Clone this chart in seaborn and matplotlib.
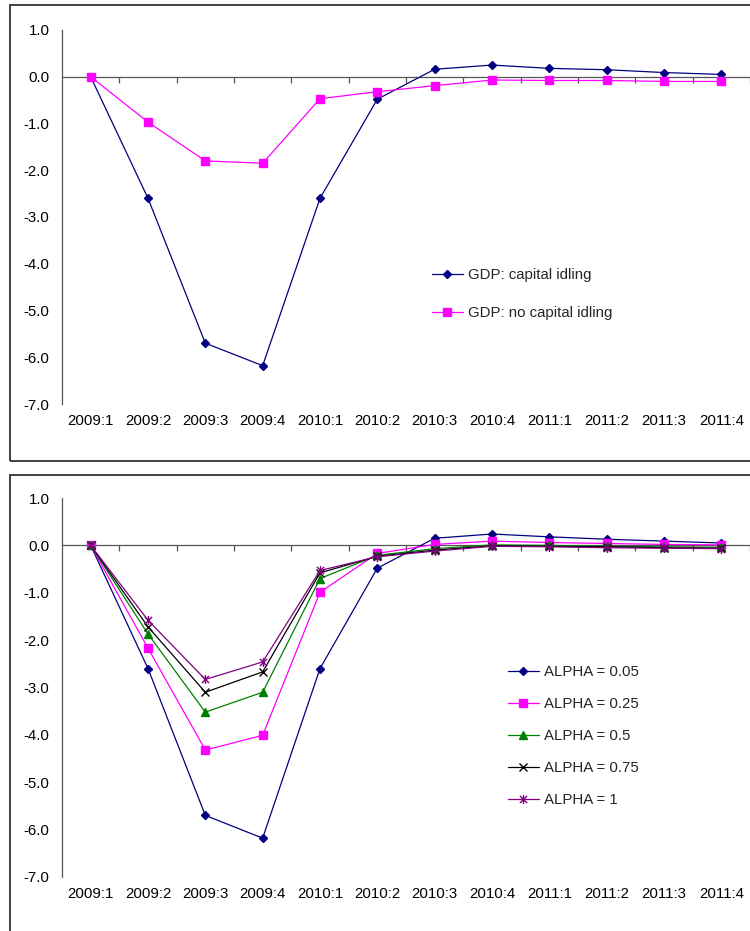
import numpy as np
import pandas as pd
import matplotlib
matplotlib.use("Agg")
import matplotlib.pyplot as plt
import seaborn as sns
from matplotlib.patches import Rectangle
from matplotlib.path import Path
from matplotlib.ticker import FuncFormatter

# data
quarters = ["2009:1", "2009:2", "2009:3", "2009:4", "2010:1", "2010:2",
            "2010:3", "2010:4", "2011:1", "2011:2", "2011:3", "2011:4"]

gdp_idling = [0.0, -2.60, -5.70, -6.18, -2.60, -0.48, 0.16, 0.25, 0.18, 0.15, 0.09, 0.05]
gdp_no_idling = [0.0, -0.97, -1.80, -1.85, -0.47, -0.32, -0.19, -0.07, -0.08, -0.08, -0.10, -0.10]

alpha_005 = [0.0, -2.60, -5.70, -6.18, -2.60, -0.48, 0.15, 0.24, 0.18, 0.13, 0.09, 0.05]
alpha_025 = [0.0, -2.17, -4.32, -4.01, -0.99, -0.17, 0.02, 0.09, 0.06, 0.04, 0.02, 0.01]
alpha_05 = [0.0, -1.87, -3.52, -3.10, -0.70, -0.21, -0.07, 0.01, 0.00, -0.02, -0.03, -0.04]
alpha_075 = [0.0, -1.72, -3.10, -2.67, -0.58, -0.23, -0.10, -0.01, -0.02, -0.03, -0.05, -0.06]
alpha_1 = [0.0, -1.58, -2.83, -2.46, -0.53, -0.24, -0.12, -0.02, -0.03, -0.05, -0.06, -0.07]

sns.set_style("white")
plt.rcParams['font.family'] = ['Liberation Sans', 'DejaVu Sans']
plt.rcParams['font.size'] = 10.8
plt.rcParams['axes.unicode_minus'] = False

# excel style asterisk marker: x plus a vertical bar
star = Path([(-1, -1), (1, 1), (-1, 1), (1, -1), (0, -1.25), (0, 1.25)],
            [Path.MOVETO, Path.LINETO, Path.MOVETO, Path.LINETO, Path.MOVETO, Path.LINETO])

top_series = [
    ("GDP: capital idling", gdp_idling, "#000080", "D", 4.3),
    ("GDP: no capital idling", gdp_no_idling, "#FF00FF", "s", 5.6),
]
bottom_series = [
    ("ALPHA = 0.05", alpha_005, "#000080", "D", 4.3),
    ("ALPHA = 0.25", alpha_025, "#FF00FF", "s", 5.6),
    ("ALPHA = 0.5", alpha_05, "#008000", "^", 6.0),
    ("ALPHA = 0.75", alpha_075, "#000000", "x", 6.0),
    ("ALPHA = 1", alpha_1, "#800080", star, 6.5),
]

W, H = 750, 931
fig = plt.figure(figsize=(W / 100, H / 100), dpi=100)

# outer frames of the two chart objects
for y0, y1 in [(4.5, 461), (475, 945)]:
    fig.patches.append(Rectangle((10 / W, 1 - y1 / H), 1.2, (y1 - y0) / H,
                                 transform=fig.transFigure, fill=False,
                                 edgecolor="#333333", linewidth=1.3))

axis_col = "#555555"


def draw_panel(rect, series, legend_xy, spacing):
    ax = fig.add_axes(rect)
    x = np.arange(len(quarters))
    for name, vals, col, mk, ms in series:
        df = pd.DataFrame({"x": x, "value": vals})
        hollow = isinstance(mk, Path) or mk == "x"
        sns.lineplot(data=df, x="x", y="value", ax=ax, color=col, marker=mk,
                     markersize=ms, markeredgecolor=col, markeredgewidth=1.0,
                     markerfacecolor="none" if hollow else col,
                     linewidth=0.9, label=name)
    ax.set_xlim(-0.5, len(quarters) - 0.5)
    ax.set_ylim(-7, 1)
    ax.set_xlabel("")
    ax.set_ylabel("")
    ax.set_yticks(np.arange(-7, 1.1, 1))
    ax.yaxis.set_major_formatter(FuncFormatter(lambda v, p: "%.1f" % v))
    ax.set_xticks(x)
    ax.set_xticklabels(quarters)
    for s in ["top", "right", "bottom"]:
        ax.spines[s].set_visible(False)
    ax.spines["left"].set_color(axis_col)
    ax.spines["left"].set_linewidth(0.9)
    ax.tick_params(axis="x", length=0, pad=7, colors="#000000")
    ax.tick_params(axis="y", length=4, width=0.9, direction="out", color=axis_col, pad=5)
    ax.tick_params(axis="both", labelcolor="#000000")

    # horizontal category axis crossing at zero, tick marks only
    sec = ax.secondary_xaxis(7 / 8)
    sec.set_xticks(np.arange(0.5, len(quarters), 1))
    sec.set_xticklabels([])
    sec.xaxis.set_ticks_position("bottom")
    sec.tick_params(axis="x", length=4, width=0.9, direction="out", color=axis_col,
                    labelbottom=False, labeltop=False)
    for s in sec.spines.values():
        s.set_color(axis_col)
        s.set_linewidth(0.9)

    ax.legend(loc="center left", bbox_to_anchor=legend_xy, bbox_transform=fig.transFigure,
              frameon=False, borderpad=0, handlelength=2.05, handletextpad=0.35,
              labelspacing=spacing, fontsize=10.8, borderaxespad=0)
    return ax


draw_panel([62 / W, 1 - 404 / H, 688 / W, 374 / H], top_series,
           (432 / W, 1 - 294 / H), 1.62)
draw_panel([62 / W, 1 - 877 / H, 688 / W, 379 / H], bottom_series,
           (508 / W, 1 - 736.5 / H), 1.2)

fig.savefig("out.png", dpi=100)
